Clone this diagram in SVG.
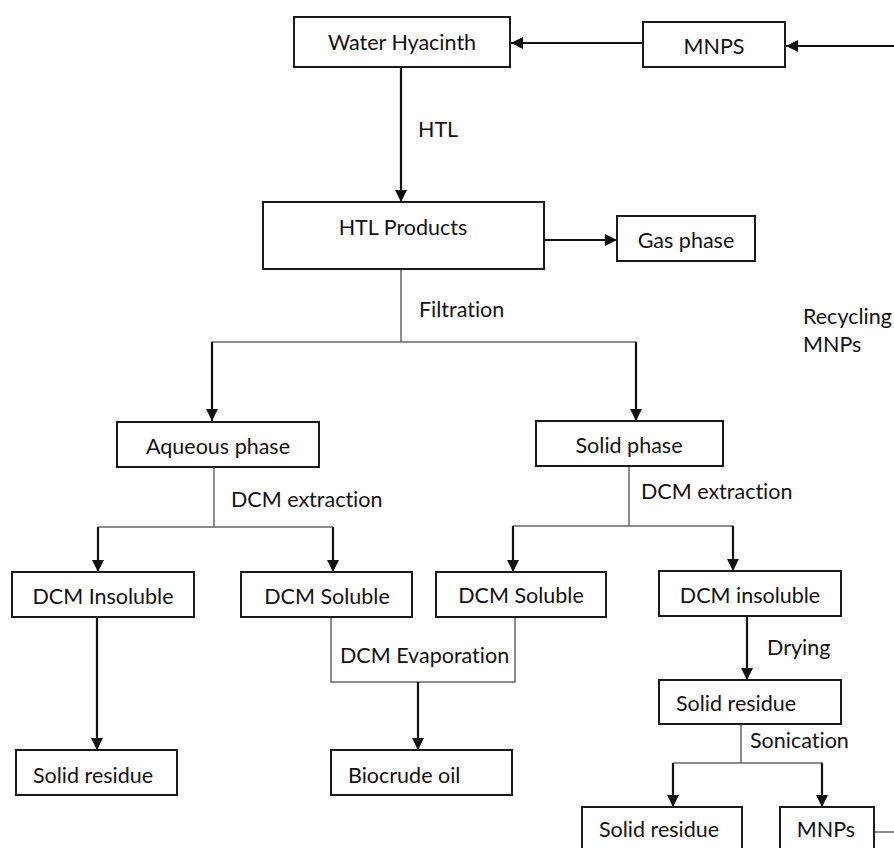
<svg xmlns="http://www.w3.org/2000/svg" width="894" height="848" viewBox="0 0 894 848">
<style>
.box{fill:#fff;stroke:#1a1a1a;stroke-width:2}
.t{font-family:Lato,"Open Sans",sans-serif;font-size:21.5px;fill:#111;font-variant-ligatures:none}
.c{text-anchor:middle}
.arr{stroke:#111;stroke-width:2.2;fill:none}
.thin{stroke:#666;stroke-width:1.5;fill:none}
</style>
<defs>
<marker id="ah" markerUnits="userSpaceOnUse" markerWidth="14" markerHeight="14" viewBox="0 0 14 14" refX="13" refY="7" orient="auto">
<path d="M1,1 L13,7 L1,13 Z" fill="#111"/>
</marker>
</defs>
<rect width="894" height="848" fill="#fff"/>
<g id="connectors">
<line class="arr" x1="643" y1="43" x2="511" y2="43" marker-end="url(#ah)"/>
<line class="arr" x1="894" y1="46" x2="786" y2="46" marker-end="url(#ah)"/>
<line class="arr" x1="401" y1="67" x2="401" y2="202" marker-end="url(#ah)"/>
<line class="arr" x1="544" y1="240" x2="617" y2="240" marker-end="url(#ah)"/>
<polyline class="thin" points="401,269 401,342"/>
<polyline class="thin" points="212,342 636,342"/>
<line class="arr" x1="212" y1="342" x2="212" y2="421" marker-end="url(#ah)"/>
<line class="arr" x1="636" y1="342" x2="636" y2="421" marker-end="url(#ah)"/>
<polyline class="thin" points="214,467 214,527"/>
<polyline class="thin" points="98,527 333,527"/>
<line class="arr" x1="98" y1="527" x2="98" y2="572" marker-end="url(#ah)"/>
<line class="arr" x1="333" y1="527" x2="333" y2="572" marker-end="url(#ah)"/>
<polyline class="thin" points="629,466 629,526"/>
<polyline class="thin" points="513,526 733,526"/>
<line class="arr" x1="513" y1="526" x2="513" y2="572" marker-end="url(#ah)"/>
<line class="arr" x1="733" y1="526" x2="733" y2="571" marker-end="url(#ah)"/>
<line class="arr" x1="97" y1="617" x2="97" y2="750" marker-end="url(#ah)"/>
<polyline class="thin" points="331,617 331,682 515,682 515,617"/>
<line class="arr" x1="418" y1="682" x2="418" y2="750" marker-end="url(#ah)"/>
<line class="arr" x1="747" y1="616" x2="747" y2="680" marker-end="url(#ah)"/>
<polyline class="thin" points="741,724 741,763"/>
<polyline class="thin" points="673,763 822,763"/>
<line class="arr" x1="673" y1="763" x2="673" y2="807" marker-end="url(#ah)"/>
<line class="arr" x1="822" y1="763" x2="822" y2="807" marker-end="url(#ah)"/>
<line class="thin" x1="874" y1="832" x2="894" y2="832"/>
</g>
<g id="labels">
<text class="t" x="418" y="137">HTL</text>
<text class="t" x="419" y="317">Filtration</text>
<text class="t" x="231" y="507">DCM extraction</text>
<text class="t" x="641" y="499">DCM extraction</text>
<text class="t" x="340" y="663">DCM Evaporation</text>
<text class="t" x="767" y="655">Drying</text>
<text class="t" x="750" y="748">Sonication</text>
<text class="t" x="803" y="324">Recycling</text>
<text class="t" x="803" y="352">MNPs</text>
</g>
<g id="water-hyacinth"><rect class="box" x="294" y="17" width="216" height="50"/><text class="t c" x="402" y="50">Water Hyacinth</text></g>
<g id="mnps-top"><rect class="box" x="643" y="22" width="142" height="45"/><text class="t c" x="714" y="54">MNPS</text></g>
<g id="htl-products"><rect class="box" x="263" y="202" width="281" height="67"/><text class="t c" x="403" y="235">HTL Products</text></g>
<g id="gas-phase"><rect class="box" x="617" y="216" width="138" height="45"/><text class="t c" x="686" y="248">Gas phase</text></g>
<g id="aqueous-phase"><rect class="box" x="117" y="422" width="202" height="45"/><text class="t c" x="218" y="454">Aqueous phase</text></g>
<g id="solid-phase"><rect class="box" x="536" y="421" width="187" height="45"/><text class="t c" x="629" y="453">Solid phase</text></g>
<g id="dcm-insoluble-left"><rect class="box" x="12" y="572" width="182" height="45"/><text class="t c" x="103" y="604">DCM Insoluble</text></g>
<g id="dcm-soluble-left"><rect class="box" x="241" y="572" width="171" height="45"/><text class="t c" x="327" y="604">DCM Soluble</text></g>
<g id="dcm-soluble-right"><rect class="box" x="436" y="572" width="170" height="45"/><text class="t c" x="521" y="603">DCM Soluble</text></g>
<g id="dcm-insoluble-right"><rect class="box" x="659" y="571" width="182" height="45"/><text class="t c" x="750" y="603">DCM insoluble</text></g>
<g id="solid-residue-left"><rect class="box" x="16" y="750" width="161" height="45"/><text class="t" x="33" y="783">Solid residue</text></g>
<g id="biocrude-oil"><rect class="box" x="331" y="750" width="181" height="45"/><text class="t" x="348" y="783">Biocrude oil</text></g>
<g id="solid-residue-mid"><rect class="box" x="659" y="680" width="182" height="44"/><text class="t" x="676" y="711">Solid residue</text></g>
<g id="solid-residue-bottom"><rect class="box" x="582" y="807" width="160" height="60"/><text class="t" x="599" y="837">Solid residue</text></g>
<g id="mnps-bottom"><rect class="box" x="780" y="807" width="94" height="60"/><text class="t c" x="826" y="837">MNPs</text></g>
</svg>
